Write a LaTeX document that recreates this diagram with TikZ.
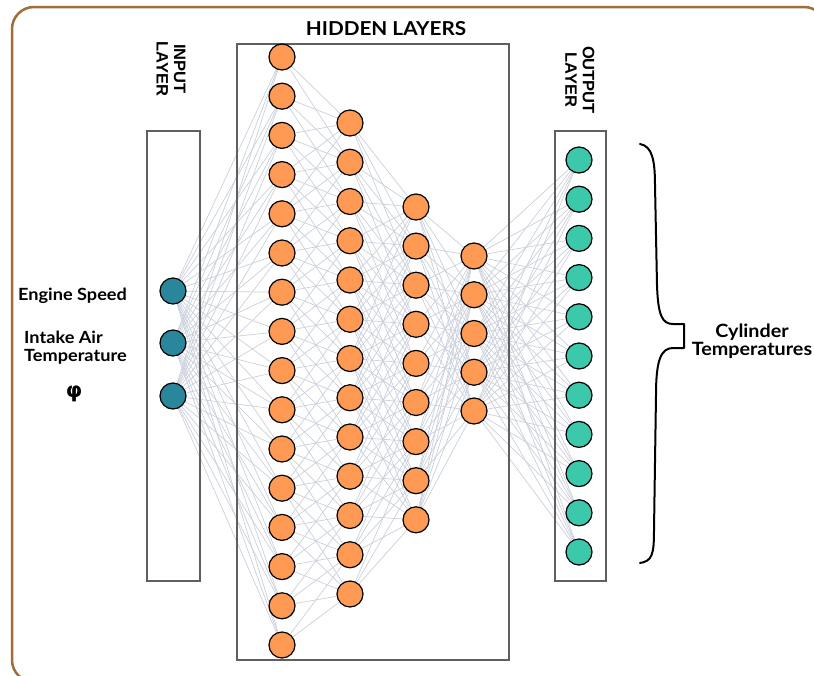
\documentclass[tikz,border=0pt]{standalone}
\usepackage{fontspec}
\setmainfont{Lato}[FakeStretch=1.08]
\newfontfamily\arialf{Liberation Sans}
\newfontfamily\dejavu{DejaVu Sans}
\usetikzlibrary{backgrounds}
\definecolor{inteal}{RGB}{42,135,155}
\definecolor{outteal}{RGB}{60,200,170}
\definecolor{neuroncol}{RGB}{255,154,85}
\definecolor{wirecol}{RGB}{203,208,220}
\definecolor{framecol}{RGB}{160,110,60}
\definecolor{boxgray}{RGB}{95,95,95}
\begin{document}
\begin{tikzpicture}[x=1pt,y=-1pt,
  unit/.style={circle,draw=black,line width=1.2pt,minimum size=26pt,inner sep=0pt},
  inunit/.style={unit,fill=inteal},
  hidunit/.style={unit,fill=neuroncol},
  outunit/.style={unit,fill=outteal},
  wire/.style={draw=wirecol,line width=0.7pt},
  layerbox/.style={draw=boxgray,line width=2pt},
  lbl/.style={font=\bfseries\fontsize{16.8}{17.5}\selectfont,inner sep=0pt},
  laytitle/.style={font=\arialf\bfseries\fontsize{16.5}{17.5}\selectfont,inner sep=0pt,align=center,rotate=-90}]
\useasboundingbox (0,0) rectangle (814,675);
\clip (0,0) rectangle (814,675);

% units
\foreach \k/\y in {1/291,2/343,3/396} \node[inunit] (i\k) at (173,\y) {};
\foreach \k in {1,...,16} \node[hidunit] (a\k) at (282,{57+(\k-1)*39.2}) {};
\foreach \k in {1,...,13} \node[hidunit] (b\k) at (350,{123+(\k-1)*39.25}) {};
\foreach \k in {1,...,9} \node[hidunit] (c\k) at (416,{207+(\k-1)*39.1}) {};
\foreach \k in {1,...,5} \node[hidunit] (d\k) at (474,{256+(\k-1)*38.75}) {};
\foreach \k in {1,...,11} \node[outunit] (o\k) at (579,{160+(\k-1)*39.2}) {};

\begin{scope}[on background layer]
  \fill[white] (0,0) rectangle (814,675);
  \draw[draw=framecol,line width=2.5pt,rounded corners=22pt] (12,7) rectangle (826,682);
  \foreach \i in {1,...,3} \foreach \j in {1,...,16} \draw[wire] (i\i) -- (a\j);
  \foreach \i in {1,...,16} \foreach \j in {1,...,13} {
    \pgfmathsetmacro{\dy}{abs((57+(\i-1)*39.2)-(123+(\j-1)*39.25))}
    \ifdim\dy pt<125pt \draw[wire] (a\i) -- (b\j); \fi
  }
  \foreach \i in {1,...,13} \foreach \j in {1,...,9} {
    \pgfmathsetmacro{\dy}{abs((123+(\i-1)*39.25)-(207+(\j-1)*39.1))}
    \ifdim\dy pt<170pt \draw[wire] (b\i) -- (c\j); \fi
  }
  \foreach \i in {1,...,9} \foreach \j in {1,...,5} \draw[wire] (c\i) -- (d\j);
  \foreach \i in {1,...,5} \foreach \j in {1,...,11} \draw[wire] (d\i) -- (o\j);
  \draw[layerbox] (147,131) rectangle (200,581);
  \draw[layerbox] (237,44) rectangle (509,660);
  \draw[layerbox] (555,131) rectangle (606,581);
\end{scope}

% titles
\node[laytitle] (inlayer) at (171,69) {INPUT\\LAYER};
\node[laytitle] (outlayer) at (580,80) {OUTPUT\\LAYER};
\node[lbl,font=\bfseries\fontsize{19.2}{20}\selectfont] (hidlayer) at (386,29) {HIDDEN LAYERS};

% input labels
\node[lbl,anchor=west] (es) at (18,296) {Engine Speed};
\node[lbl,anchor=west,align=left] (iat) at (24,347.5) {Intake Air\\Temperature};
\node[lbl,font=\dejavu\bfseries\fontsize{21}{22}\selectfont] (phi) at (74,394) {φ};

% output brace and label
\draw[line width=2pt,line cap=round,line join=round]
  (640,144) .. controls (652,146) and (655,160) .. (655,185)
  -- (657,285) .. controls (658,315) and (662,324) .. (673,324)
  -- (684,324) -- (684,348) -- (673,348)
  .. controls (661,348) and (656,360) .. (656,395)
  -- (654,530) .. controls (654,555) and (652,561) .. (640,563);
\node[lbl,align=center,font=\bfseries\fontsize{18.3}{18.5}\selectfont] (cyl) at (752,341) {Cylinder\\Temperatures};
\end{tikzpicture}
\end{document}
